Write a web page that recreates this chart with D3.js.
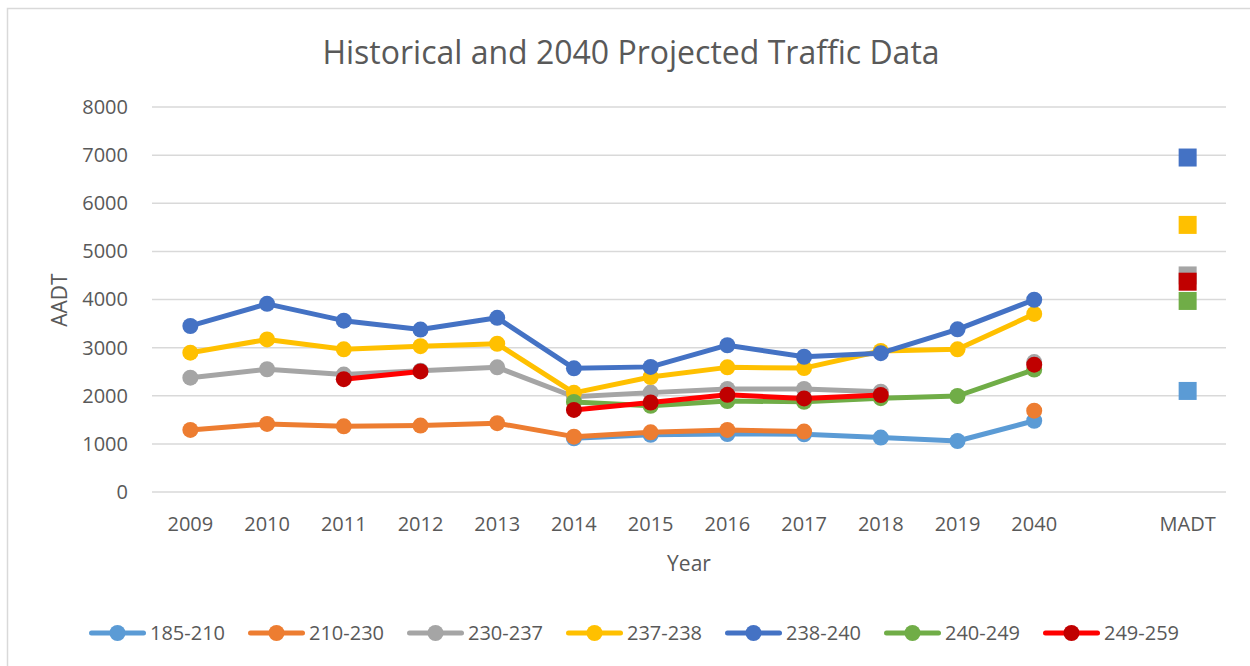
<!DOCTYPE html>
<html>
<head>
<meta charset="utf-8">
<title>Historical and 2040 Projected Traffic Data</title>
<script src="https://d3js.org/d3.v7.min.js"></script>
<style>
body { margin: 0; background: #fff; font-family: 'Open Sans', 'Noto Sans', sans-serif; }
svg text { fill: #595959; }
.grid line { stroke: #d9d9d9; stroke-width: 1.5; }
</style>
</head>
<body>
<svg width="1250" height="666"></svg>
<script>

// categories along the x axis (one blank slot before MADT)
var categories = ["2009", "2010", "2011", "2012", "2013", "2014", "2015", "2016", "2017", "2018", "2019", "2040", "", "MADT"];
var yTicks = [0, 1000, 2000, 3000, 4000, 5000, 6000, 7000, 8000];

var seriesNames = ["185-210", "210-230", "230-237", "237-238", "238-240", "240-249", "249-259"];
var lineColors   = ["#5b9bd5", "#ed7d31", "#a5a5a5", "#ffc000", "#4472c4", "#70ad47", "#ff0000"];
var markerColors = ["#5b9bd5", "#ed7d31", "#a5a5a5", "#ffc000", "#4472c4", "#70ad47", "#c00000"];

// yearly AADT, 2009..2019 then 2040 (null = no count)
var s185_210 = [null, null, null, null, null, 1115, 1190, 1205, 1200, 1130, 1060, 1480];
var s210_230 = [1290, 1415, 1365, 1380, 1430, 1150, 1240, 1290, 1255, null, null, 1690];
var s230_237 = [2375, 2550, 2440, 2520, 2590, 1980, 2065, 2140, 2140, 2085, null, 2700];
var s237_238 = [2895, 3170, 2965, 3030, 3080, 2060, 2390, 2590, 2575, 2930, 2965, 3700];
var s238_240 = [3450, 3910, 3560, 3375, 3620, 2570, 2600, 3050, 2810, 2885, 3380, 3995];
var s240_249 = [null, null, null, null, null, 1870, 1790, 1890, 1875, 1950, 1995, 2545];
var s249_259 = [null, null, 2345, 2505, null, 1705, 1860, 2020, 1945, 2015, null, 2645];

// MADT value per segment, drawn as squares
var madt = [2100, null, 4500, 5550, 6950, 3970, 4370];

var allSeries = [s185_210, s210_230, s230_237, s237_238, s238_240, s240_249, s249_259];

var svg = d3.select("svg");

// chart frame
svg.append("rect")
  .attr("x", 7.5).attr("y", 8.5)
  .attr("width", 1260).attr("height", 680)
  .attr("fill", "none").attr("stroke", "#d9d9d9").attr("stroke-width", 1.5);

var x = d3.scaleBand().domain(d3.range(categories.length)).range([152, 1226]);
var y = d3.scaleLinear().domain([0, 8000]).range([492, 107]);
var cx = function (i) { return x(i) + x.bandwidth() / 2; };

// gridlines
svg.append("g").attr("class", "grid")
  .selectAll("line").data(yTicks).enter().append("line")
  .attr("x1", 152).attr("x2", 1226)
  .attr("y1", function (d) { return y(d); })
  .attr("y2", function (d) { return y(d); });

// y axis labels
var yAxis = svg.append("g")
  .attr("transform", "translate(140,0)")
  .call(d3.axisLeft(y).tickValues(yTicks).tickSize(0).tickPadding(12).tickFormat(d3.format("d")));
yAxis.select(".domain").remove();
yAxis.selectAll("text").style("font-size", "20px").style("font-family", "'Open Sans', sans-serif").attr("fill", "#595959");

// x axis labels
var xAxis = svg.append("g")
  .attr("transform", "translate(0,511)")
  .call(d3.axisBottom(x).tickSize(0).tickPadding(6).tickFormat(function (i) { return categories[i]; }));
xAxis.select(".domain").remove();
xAxis.selectAll("text").style("font-size", "20px").style("font-family", "'Open Sans', sans-serif").attr("fill", "#595959");

// titles
svg.append("text")
  .attr("x", 631).attr("y", 64)
  .attr("text-anchor", "middle")
  .style("font-size", "32px")
  .text("Historical and 2040 Projected Traffic Data");

svg.append("text")
  .attr("x", 689).attr("y", 571)
  .attr("text-anchor", "middle")
  .style("font-size", "21px")
  .text("Year");

svg.append("text")
  .attr("transform", "translate(67,300) rotate(-90)")
  .attr("text-anchor", "middle")
  .style("font-size", "21px")
  .text("AADT");

// lines and markers, series by series
var line = d3.line()
  .defined(function (d) { return d != null; })
  .x(function (d, i) { return cx(i); })
  .y(function (d) { return y(d); });

allSeries.forEach(function (values, k) {
  var g = svg.append("g");
  g.append("path")
    .attr("d", line(values))
    .attr("fill", "none")
    .attr("stroke", lineColors[k])
    .attr("stroke-width", 5)
    .attr("stroke-linejoin", "round")
    .attr("stroke-linecap", "round");

  var pts = values.map(function (v, i) { return { v: v, i: i }; }).filter(function (p) { return p.v != null; });
  g.selectAll("circle").data(pts).enter().append("circle")
    .attr("cx", function (p) { return cx(p.i); })
    .attr("cy", function (p) { return y(p.v); })
    .attr("r", 8)
    .attr("fill", markerColors[k]);

  if (madt[k] != null) {
    g.append("rect")
      .attr("x", cx(categories.length - 1) - 9)
      .attr("y", y(madt[k]) - 9)
      .attr("width", 18).attr("height", 18)
      .attr("fill", markerColors[k]);
  }
});

// legend
var legend = svg.append("g").attr("transform", "translate(89,633)");
var item = legend.selectAll("g").data(seriesNames).enter().append("g")
  .attr("transform", function (d, i) { return "translate(" + (i * 159) + ",0)"; });
item.append("line")
  .attr("x1", 2.5).attr("x2", 54.5)
  .attr("stroke", function (d, i) { return lineColors[i]; })
  .attr("stroke-width", 5).attr("stroke-linecap", "round");
item.append("circle")
  .attr("cx", 28.5).attr("r", 8)
  .attr("fill", function (d, i) { return markerColors[i]; });
item.append("text")
  .attr("x", 61).attr("dy", "0.35em")
  .style("font-size", "20px")
  .text(function (d) { return d; });

</script>
</body>
</html>
